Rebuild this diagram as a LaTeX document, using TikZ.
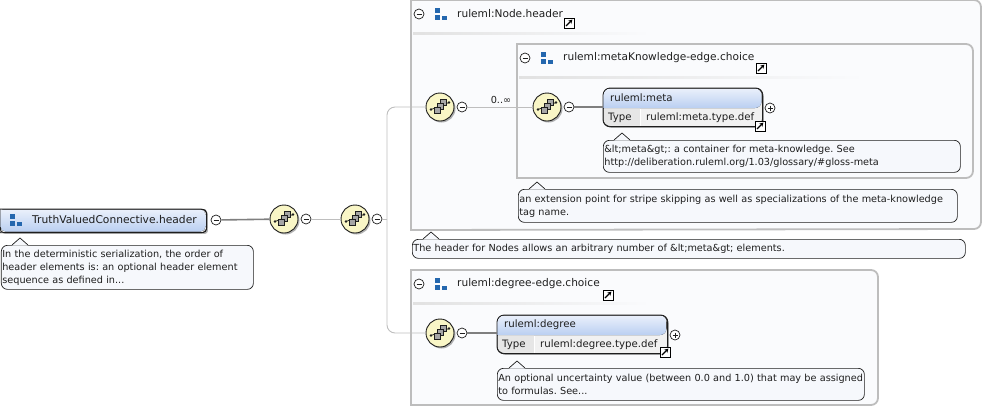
\documentclass[tikz,border=0pt]{standalone}
\usepackage{fontspec}
\setmainfont{DejaVu Sans}
\usepackage{xcolor}
\usetikzlibrary{
  arrows.meta,
  positioning,
  calc,
  shadows,
}
\definecolor{ink}{HTML}{1E1E1E}
\definecolor{grouprim}{HTML}{BDBDBD}
\definecolor{groupbg}{HTML}{FAFBFD}
\definecolor{notebg}{HTML}{F6F8FC}
\definecolor{wire}{HTML}{BEBEBE}
\definecolor{heavywire}{HTML}{7F7F7F}
\definecolor{headtop}{HTML}{EAF0FB}
\definecolor{headbot}{HTML}{BACFF1}
\definecolor{typecell}{HTML}{E6E6E6}
\definecolor{valuecell}{HTML}{F1F1F1}
\definecolor{seqfill}{HTML}{F9F6C6}
\definecolor{compblue}{HTML}{2467AE}
\tikzset{
  x=1pt,y=-1pt,
  every node/.append style={text=ink},
  groupbox/.style={draw=grouprim, line width=1.8pt, fill=groupbg},
  grouptitle/.style={font=\fontsize{10.6}{12}\selectfont, anchor=west, inner sep=0pt},
  note/.style={
    draw=ink, line width=.7pt, fill=notebg, rounded corners=6pt,
    anchor=north west, align=left, inner xsep=1pt, inner ysep=0pt,
    font=\fontsize{9.7}{13}\selectfont,
  },
  elembox/.style={
    draw=ink, line width=.8pt, fill=valuecell, rounded corners=7pt,
    anchor=north west, inner sep=0pt,
    drop shadow={shadow xshift=1.5pt, shadow yshift=-1.5pt, fill=black, opacity=.3},
  },
  elemtext/.style={font=\fontsize{10.2}{12}\selectfont, anchor=west, inner sep=0pt},
  seqcircle/.style={
    circle, draw=ink, line width=.9pt, fill=seqfill, minimum size=28pt, inner sep=0pt,
    drop shadow={shadow xshift=1.5pt, shadow yshift=-1.5pt, fill=black, opacity=.3},
  },
  btn/.style={circle, draw=ink, line width=.7pt, fill=white, minimum size=10pt, inner sep=0pt},
  thinwire/.style={draw=wire, line width=.9pt},
  heavy/.style={draw=heavywire, line width=1.6pt},
  pics/minus/.style={
    code={\draw[ink, line width=.7pt] (-2.5,0) -- (2.5,0);}
  },
  pics/plus/.style={
    code={\draw[ink, line width=.7pt] (-2.5,0) -- (2.5,0) (0,-2.5) -- (0,2.5);}
  },
  pics/seqicon/.style={
    code={
      \draw[ink, line width=.7pt] (-9,2.5) -- (9,-4.5);
      \fill[ink] (-9,2.5) circle (1.3) (9,-4.5) circle (1.3);
      \foreach \ax/\ay in {0/-8, -3/-4, -6/0} {
        \draw[ink, line width=.6pt, fill=gray!70] (\ax,\ay) rectangle ++(6,6);
      }
    }
  },
  pics/compicon/.style={
    code={
      \fill[compblue] (0,-6) rectangle (5.2,-.8);
      \fill[compblue] (0,1) rectangle (5.2,6);
      \fill[compblue] (7.2,2) rectangle (12.2,6);
    }
  },
  pics/jumpicon/.style={
    code={
      \draw[black, line width=.9pt, fill=white] (-5,-5) rectangle (5,5);
      \draw[black, line width=1.3pt, -{Stealth[length=4pt,width=4.5pt]}] (-3,3) -- (3.4,-3.4);
    }
  },
}
\begin{document}
\frenchspacing
\begin{tikzpicture}
  \useasboundingbox (0,0) rectangle (983,408);

  % group frames
  \draw[groupbox] (411,230) -- (411,0) [rounded corners=7pt] -- (981,0) -- (981,229) [sharp corners] -- cycle;
  \draw[groupbox] (517,178) -- (517,44) [rounded corners=7pt] -- (973,44) -- (973,178) [sharp corners] -- cycle;
  \draw[groupbox] (411,405) -- (411,270) [rounded corners=7pt] -- (878,270) -- (878,405) [sharp corners] -- cycle;

  % fading lines below the group titles
  \fill[left color=grouprim!45, right color=groupbg] (413,32) rectangle (650,34.5);
  \fill[left color=grouprim!45, right color=groupbg] (519,76) rectangle (865,78.5);
  \fill[left color=grouprim!45, right color=groupbg] (413,302) rectangle (650,304.5);

  % group titles
  \foreach \nm/\x/\y/\lab in {nodehead/419/14/{ruleml:Node.header},
      metahead/525/58/{ruleml:metaKnowledge-edge.choice},
      degreehead/419/284/{ruleml:degree-edge.choice}} {
    \node[btn] (\nm btn) at (\x,\y) {};
    \pic at (\nm btn) {minus};
    \pic at (\x+16,\y) {compicon};
    \node[grouptitle] (\nm) at (\x+38,\y) {\lab};
  }

  % root component
  \node[elembox, rounded corners=3pt, minimum width=206pt, minimum height=23pt] (root) at (0,209) {};
  \fill[top color=headtop, bottom color=headbot, rounded corners=5pt] (.5,209.5) -- (205.5,209.5) -- (205.5,231.5) -- (.5,231.5) [sharp corners] -- cycle;
  \draw[ink, line width=.8pt] (root.south west) -- (root.north west) [rounded corners=6pt] -- (root.north east) -- (root.south east) -- (root.south west);
  \pic at (10,220) {compicon};
  \node[elemtext, font=\fontsize{10.7}{12}\selectfont] (roottext) at (32,220) {TruthValuedConnective.header};

  % sequence compositors
  \foreach \nm/\x/\y in {seqa/284/219, seqb/355/219, seqc/440/107, seqd/547/107, seqe/440/333} {
    \node[seqcircle] (\nm) at (\x,\y) {};
    \pic at (\nm) {seqicon};
    \node[btn] (\nm btn) at (\x+22,\y) {};
    \pic at (\nm btn) {minus};
  }
  \node[btn] (rootbtn) at (216,220) {};
  \pic at (rootbtn) {minus};

  % elements
  \foreach \nm/\x/\y/\w/\tw/\lab/\typ in {metael/603/88/159/37/{ruleml:meta}/{ruleml:meta.type.def},
      degreeel/497/315/170/37/{ruleml:degree}/{ruleml:degree.type.def}} {
    \node[elembox, minimum width=\w pt, minimum height=38pt] (\nm) at (\x,\y) {};
    \fill[top color=headtop, bottom color=headbot, rounded corners=6.5pt]
      (\x+.5,\y+20) -- (\x+.5,\y+.5) -- (\x+\w-.5,\y+.5) -- (\x+\w-.5,\y+20) [sharp corners] -- cycle;
    \fill[typecell, rounded corners=6.5pt]
      (\x+.5,\y+20.5) [sharp corners] -- (\x+\tw,\y+20.5) -- (\x+\tw,\y+37.5) [rounded corners=6.5pt] -- (\x+.5,\y+37.5) [sharp corners] -- cycle;
    \fill[white] (\x+\tw,\y+20.5) rectangle (\x+\tw+1,\y+37.5);
    \draw[ink, line width=.8pt, rounded corners=7pt] (\nm.north west) rectangle (\nm.south east);
    \node[elemtext] (\nm title) at (\x+7,\y+10) {\lab};
    \node[elemtext] (\nm type) at (\x+5,\y+30) {Type};
    \node[elemtext] (\nm value) at (\x+\tw+6,\y+30) {\typ};
    \node[btn] (\nm btn) at (\x+\w+8,\y+20) {};
    \pic at (\nm btn) {plus};
  }

  % connectors
  \coordinate (fork) at (387,219);
  \draw[heavy] (rootbtn) -- (seqa);
  \draw[thinwire] (seqabtn) -- (seqb);
  \draw[thinwire] (seqbbtn) -- (fork);
  \draw[thinwire, rounded corners=8pt] (fork) |- (seqc);
  \draw[thinwire, rounded corners=8pt] (fork) |- (seqe);
  \draw[thinwire] (seqcbtn) -- (seqd);
  \draw[heavy] (seqdbtn) -- (metael.west |- seqdbtn);
  \draw[heavy] (seqebtn) -- (degreeel.west |- seqebtn);
  \node[font=\fontsize{9.7}{11}\selectfont, inner sep=0pt] (card) at (501,100) {0..∞};

  % notes
  \node[note, minimum width=252pt, minimum height=44pt, text width=250pt] (rootnote) at (1,245)
    {In the deterministic serialization, the order of\\header elements is: an optional header element\\sequence as defined in...};
  \node[note, minimum width=357pt, minimum height=32pt, text width=355pt] (metanote) at (603,140)
    {\&lt;meta\&gt;: a container for meta-knowledge. See\\http://deliberation.ruleml.org/1.03/glossary/\#gloss-meta};
  \node[note, minimum width=439pt, minimum height=33pt, text width=437pt] (pointnote) at (518,189)
    {an extension point for stripe skipping as well as specializations of the meta-knowledge\\tag name.};
  \node[note, minimum width=553pt, minimum height=19pt, text width=551pt] (nodenote) at (412,239)
    {The header for Nodes allows an arbitrary number of \&lt;meta\&gt; elements.};
  \node[note, minimum width=367pt, minimum height=32pt, text width=365pt] (degreenote) at (497,368)
    {An optional uncertainty value (between 0.0 and 1.0) that may be assigned\\to formulas. See...};

  % pointers of the notes
  \foreach \x/\y in {20/245, 622/140, 537/189, 431/239, 517/368} {
    \fill[notebg] (\x-8,\y+.6) -- (\x,\y-7) -- (\x+8,\y+.6) -- cycle;
    \draw[ink, line width=.7pt] (\x-8,\y) -- (\x,\y-7) -- (\x+8,\y);
  }

  % jump badges
  \foreach \x/\y in {569/23, 761/68, 760/126, 608/295, 665/352} {
    \pic at (\x,\y) {jumpicon};
  }
\end{tikzpicture}
\end{document}
